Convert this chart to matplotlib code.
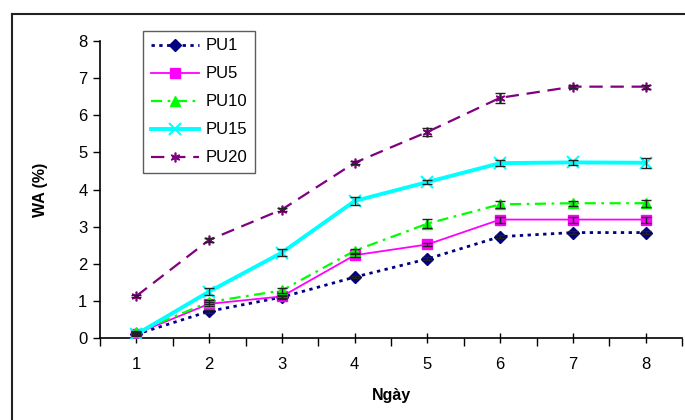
import matplotlib
matplotlib.use("Agg")
import matplotlib.pyplot as plt
from matplotlib.lines import Line2D
from matplotlib.ticker import FixedLocator

plt.rcParams['font.family'] = ['Liberation Sans', 'DejaVu Sans']

days = [1, 2, 3, 4, 5, 6, 7, 8]
x_labels = ['1', '2', '3', '4', '5', '6', '7', '8']

pu1 = [0.10, 0.72, 1.10, 1.64, 2.13, 2.73, 2.84, 2.84]
pu5 = [0.12, 0.92, 1.12, 2.23, 2.52, 3.19, 3.19, 3.19]
pu10 = [0.15, 0.97, 1.28, 2.35, 3.08, 3.60, 3.63, 3.63]
pu15 = [0.10, 1.25, 2.30, 3.69, 4.20, 4.71, 4.73, 4.72]
pu20 = [1.13, 2.64, 3.46, 4.72, 5.55, 6.47, 6.77, 6.77]

err1 = [0.03, 0.04, 0.04, 0.03, 0.04, 0.04, 0.03, 0.03]
err5 = [0.04, 0.05, 0.05, 0.04, 0.04, 0.08, 0.08, 0.08]
err10 = [0.05, 0.05, 0.08, 0.05, 0.12, 0.10, 0.07, 0.09]
err15 = [0.05, 0.10, 0.10, 0.10, 0.05, 0.08, 0.07, 0.13]
err20 = [0.03, 0.05, 0.05, 0.04, 0.10, 0.13, 0.04, 0.05]

series_names = ['PU1', 'PU5', 'PU10', 'PU15', 'PU20']

fig = plt.figure(figsize=(6.85, 4.2), dpi=100)
ax = fig.add_axes([100/685, 1-338/420, 582/685, 297/420])

styles = [
    dict(color='#000080', ls=(0, (1.2, 1.6)), lw=2.0, marker='D', ms=6.0),
    dict(color='#FF00FF', ls='-', lw=1.3, marker='s', ms=6.5),
    dict(color='#00FF00', ls=(0, (5, 2.5, 1.2, 2.5)), lw=1.6, marker='^', ms=7.5),
    dict(color='#00FFFF', ls='-', lw=2.8, marker='x', ms=8.5, mew=1.5),
    dict(color='#800080', ls=(0, (6, 3.5)), lw=1.6, marker=(6, 2, 0), ms=7.0, mew=1.2),
]
data = [pu1, pu5, pu10, pu15, pu20]
errs = [err1, err5, err10, err15, err20]

handles = []
for name, y, e, st in zip(series_names, data, errs, styles):
    h, = ax.plot(days, y, color=st['color'], linestyle=st['ls'], linewidth=st['lw'],
                 marker=st['marker'], markersize=st['ms'], markeredgewidth=st.get('mew', 1.0),
                 markerfacecolor=st['color'], markeredgecolor=st['color'], label=name, zorder=3)
    ax.errorbar(days, y, yerr=e, fmt='none', ecolor='#222222', elinewidth=1.0,
                capsize=3.5, capthick=1.0, zorder=4)
    handles.append(h)

ax.set_xlim(0.5, 8.5)
ax.set_ylim(0, 8)
ax.set_yticks(range(0, 9))
ax.xaxis.set_major_locator(FixedLocator([i + 0.5 for i in range(0, 9)]))
ax.xaxis.set_minor_locator(FixedLocator(days))
ax.set_xticklabels([''] * 9)
ax.set_xticklabels(x_labels, minor=True)
ax.tick_params(axis='x', which='major', direction='out', length=6, width=1.0, labelsize=12)
ax.tick_params(axis='x', which='minor', direction='inout', length=7, width=1.0, labelsize=12, pad=10)
ax.tick_params(axis='y', direction='out', length=5, width=1.0, labelsize=12, pad=4)
for s in ['top', 'right']:
    ax.spines[s].set_visible(False)
for s in ['left', 'bottom']:
    ax.spines[s].set_linewidth(1.2)

ax.set_xlabel('Ngày', fontsize=11.5, fontweight='bold', labelpad=12)
ax.set_ylabel('WA (%)', fontsize=11.5, fontweight='bold', labelpad=22)

leg = ax.legend(handles=handles, loc='upper left', bbox_to_anchor=(143/685, 1-31/420),
                bbox_transform=fig.transFigure, borderaxespad=0, fontsize=12,
                handlelength=2.9, handletextpad=0.4, labelspacing=0.78,
                fancybox=False, frameon=True, borderpad=0.45)
leg.get_frame().set_edgecolor('#333333')
leg.get_frame().set_linewidth(1.0)

fig.add_artist(Line2D([12/685, 1.0], [1-14/420, 1-14/420], transform=fig.transFigure,
                      color='#222222', lw=1.5))
fig.add_artist(Line2D([12/685, 12/685], [0, 1-14/420], transform=fig.transFigure,
                      color='#222222', lw=1.5))

fig.savefig('out.png', dpi=100)
